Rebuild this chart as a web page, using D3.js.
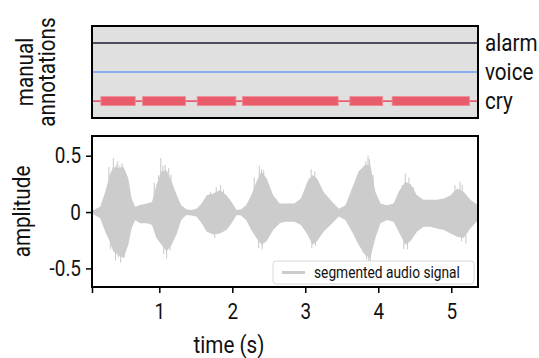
<!DOCTYPE html>
<html><head><meta charset="utf-8">
<script src="https://cdn.jsdelivr.net/npm/d3@7"></script>
<style>
body{margin:0;background:#fff;}
text{font-family:Roboto,"Liberation Sans",sans-serif;fill:#111;}
</style></head>
<body><svg id="c" width="539" height="358"></svg>
<script>
// annotation categories and cry segments (seconds)
const categories = ["alarm","voice","cry"];
const categoryColors = ["#4b4c5c","#6e9ff0","#e85c6c"];
const crySegStart = [0.20,0.77,1.52,2.14,3.61,4.19];
const crySegEnd   = [0.67,1.36,2.05,3.45,4.06,5.25];

// audio envelope (time s, upper, lower amplitude)
const envTime  = [0.08,0.10,0.19,0.26,0.32,0.37,0.44,0.51,0.575,0.62,0.67,0.735,0.83,0.90,0.96,1.03,1.10,1.17,1.24,1.30,1.37,1.44,1.51,1.58,1.65,1.74,1.83,1.92,1.99,2.06,2.12,2.19,2.26,2.33,2.40,2.47,2.56,2.65,2.72,2.85,2.94,3.03,3.10,3.16,3.25,3.37,3.46,3.55,3.64,3.73,3.82,3.89,3.96,4.03,4.12,4.21,4.28,4.37,4.44,4.53,4.62,4.71,4.80,4.90,4.99,5.08,5.17,5.26,5.37];
const envUpper = [0.01,0.018,0.047,0.18,0.33,0.40,0.39,0.40,0.30,0.12,0.047,0.062,0.077,0.09,0.24,0.36,0.37,0.27,0.15,0.06,0.024,0.018,0.03,0.077,0.15,0.165,0.195,0.15,0.09,0.018,0.024,0.06,0.15,0.27,0.36,0.30,0.15,0.077,0.077,0.077,0.12,0.27,0.33,0.30,0.18,0.09,0.03,0.06,0.21,0.36,0.42,0.42,0.18,0.077,0.06,0.077,0.18,0.27,0.25,0.15,0.11,0.11,0.11,0.12,0.15,0.21,0.18,0.11,0.06];
const envLower = [-0.01,-0.021,-0.056,-0.175,-0.26,-0.35,-0.38,-0.41,-0.29,-0.145,-0.07,-0.10,-0.10,-0.115,-0.23,-0.29,-0.35,-0.29,-0.19,-0.07,-0.027,-0.03,-0.04,-0.10,-0.175,-0.20,-0.19,-0.16,-0.10,-0.027,-0.03,-0.07,-0.16,-0.23,-0.29,-0.26,-0.16,-0.10,-0.086,-0.086,-0.115,-0.20,-0.29,-0.26,-0.175,-0.10,-0.04,-0.07,-0.175,-0.29,-0.38,-0.41,-0.23,-0.10,-0.07,-0.086,-0.175,-0.29,-0.26,-0.175,-0.13,-0.13,-0.145,-0.16,-0.19,-0.22,-0.23,-0.145,-0.07];
// isolated peaks visible in the picture (time s, amplitude)
const spikeTime = [0.31,0.34,0.37,0.41,0.43,0.46,0.49,0.53,0.93,0.99,1.02,1.05,1.08,1.13,1.16,1.70,1.78,1.84,1.88,2.30,2.37,2.40,2.43,2.98,3.05,3.08,3.13,3.70,3.76,3.83,3.86,3.88,3.93,4.33,4.37,4.42,4.48,5.05,5.12,5.15,
                   0.33,0.40,0.44,0.47,0.52,1.06,1.10,1.15,1.76,2.36,2.41,3.09,3.14,3.79,3.84,3.87,3.89,4.35,4.40,5.14,5.20];
const spikeAmp  = [0.40,0.35,0.48,0.42,0.45,0.41,0.43,0.36,0.26,0.33,0.48,0.41,0.42,0.39,0.33,0.18,0.22,0.24,0.20,0.31,0.41,0.38,0.37,0.17,0.30,0.38,0.36,0.29,0.37,0.45,0.50,0.47,0.33,0.24,0.34,0.31,0.22,0.24,0.27,0.24,
                   -0.33,-0.43,-0.40,-0.45,-0.40,-0.37,-0.41,-0.34,-0.23,-0.32,-0.33,-0.32,-0.30,-0.36,-0.42,-0.45,-0.47,-0.33,-0.33,-0.26,-0.28];

const xTicks = [1,2,3,4,5];
const yTicks = [0.5,0,-0.5];
const yTickLabels = ["0.5","0","-0.5"];

const SX = 0.86; // condensed look
const svg = d3.select("#c");
const L=92, R=478;
const x = d3.scaleLinear().domain([0.078,5.366]).range([L,R]);

function ctext(px,py,str,size,anchor,rot){
  return svg.append("text")
    .attr("transform",`translate(${px},${py})`+(rot?` rotate(${rot})`:"")+` scale(${SX},1)`)
    .attr("text-anchor",anchor||"start").attr("font-size",size).text(str);
}

// ---------- top panel ----------
const T1=26, B1=118;
const yc = d3.scalePoint().domain(categories).range([T1,B1]).padding(0.58);
svg.append("rect").attr("x",L).attr("y",T1).attr("width",R-L).attr("height",B1-T1).attr("fill","#e0e0e0");
categories.forEach((c,i)=>{
  svg.append("line").attr("x1",L).attr("x2",R).attr("y1",yc(c)).attr("y2",yc(c))
    .attr("stroke",categoryColors[i]).attr("stroke-width",i===0?2:1.6);
  ctext(485,yc(c)+8,c,24,"start");
});
svg.selectAll("rect.cry").data(crySegStart).enter().append("rect")
  .attr("x",d=>x(d)).attr("width",(d,i)=>x(crySegEnd[i])-x(d))
  .attr("y",yc("cry")-4.5).attr("height",9)
  .attr("fill",categoryColors[2]).attr("stroke","#f08a94").attr("stroke-width",0.8);
svg.append("rect").attr("x",L).attr("y",T1).attr("width",R-L).attr("height",B1-T1)
  .attr("fill","none").attr("stroke","#000").attr("stroke-width",2);
const tl = svg.append("text").attr("transform",`translate(36,${(T1+B1)/2}) rotate(-90) scale(${SX},1)`)
  .attr("text-anchor","middle").attr("font-size",24);
tl.append("tspan").attr("x",0).attr("dy","-0.12em").text("manual");
tl.append("tspan").attr("x",0).attr("dy","0.9em").text("annotations");

// ---------- bottom panel ----------
const T2=136, B2=287;
const y = d3.scaleLinear().domain([-0.665,0.675]).range([B2,T2]);
const envData = envTime.map((t,i)=>({t,u:envUpper[i],l:envLower[i]}));
svg.append("path").datum(envData)
  .attr("d",d3.area().x(d=>x(d.t)).y0(d=>y(d.l)).y1(d=>y(d.u)))
  .attr("fill","#cccccc");
svg.selectAll("line.sp").data(spikeTime).enter().append("line")
  .attr("x1",d=>x(d)).attr("x2",d=>x(d)).attr("y1",y(0))
  .attr("y2",(d,i)=>y(spikeAmp[i])).attr("stroke","#cccccc").attr("stroke-width",1.1);

const yAxis = d3.axisLeft(y).tickValues(yTicks).tickFormat((d,i)=>yTickLabels[i]).tickSize(6).tickPadding(5);
const ga = svg.append("g").attr("transform",`translate(${L},0)`).call(yAxis);
ga.select(".domain").remove();
ga.selectAll("line").attr("stroke","#000").attr("stroke-width",1.5);
ga.selectAll("text").attr("font-size",22).attr("font-family","Roboto").attr("fill","#111")
  .attr("x",-11/SX).attr("transform",`scale(${SX},1)`);

const xAxis = d3.axisBottom(x).tickValues([0.078].concat(xTicks)).tickFormat(d=>xTicks.includes(d)?d3.format("d")(d):"").tickSize(6).tickPadding(10);
const gx = svg.append("g").attr("transform",`translate(0,${B2})`).call(xAxis);
gx.select(".domain").remove();
gx.selectAll("line").attr("stroke","#000").attr("stroke-width",1.5);
gx.selectAll("text").attr("font-size",22).attr("font-family","Roboto").attr("fill","#111")
  .attr("transform",`scale(${SX},1)`);

svg.append("rect").attr("x",L).attr("y",T2).attr("width",R-L).attr("height",B2-T2)
  .attr("fill","none").attr("stroke","#000").attr("stroke-width",2);

// legend
svg.append("rect").attr("x",273).attr("y",261).attr("width",201).attr("height",23).attr("rx",3)
  .attr("fill","#fff").attr("fill-opacity",0.85).attr("stroke","#d8d8d8").attr("stroke-width",1);
svg.append("line").attr("x1",282).attr("x2",305).attr("y1",272.5).attr("y2",272.5)
  .attr("stroke","#cccccc").attr("stroke-width",3);
ctext(314,277.5,"segmented audio signal",16,"start");

ctext(30,(T2+B2)/2,"amplitude",24,"middle",-90);
ctext(229,353,"time (s)",24,"middle");
</script></body></html>
